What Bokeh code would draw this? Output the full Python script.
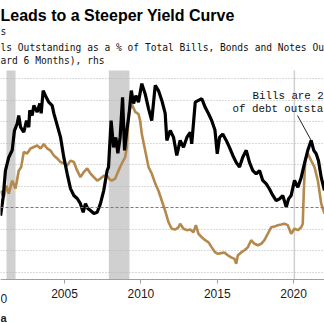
from bokeh.plotting import figure
from bokeh.models import Range1d, Label, BoxAnnotation, Span, FixedTicker, Grid, ColumnDataSource
from bokeh.embed import file_html
from bokeh.resources import INLINE

# ---------------- data ----------------
# 2s10s Treasury curve, bp (lhs, black)
CURVE_YEAR = [2000.81, 2000.98, 2001.13, 2001.35, 2001.57, 2001.72, 2001.90, 2002.00, 2002.12, 2002.33,
              2002.51, 2002.66, 2002.72, 2002.88, 2002.99, 2003.21, 2003.38, 2003.47, 2003.60, 2003.75,
              2003.97, 2004.19, 2004.30, 2004.52, 2004.74, 2004.95, 2005.17, 2005.39, 2005.61, 2005.83,
              2006.04, 2006.22, 2006.37, 2006.52, 2006.70, 2006.92, 2007.14, 2007.35, 2007.57, 2007.79,
              2007.88, 2008.05, 2008.21, 2008.36, 2008.49, 2008.64, 2008.80, 2008.93, 2009.08, 2009.23,
              2009.37, 2009.52, 2009.67, 2009.84, 2010.06, 2010.28, 2010.50, 2010.71, 2010.94, 2011.15,
              2011.37, 2011.59, 2011.70, 2011.92, 2012.14, 2012.35, 2012.57, 2012.79, 2013.01, 2013.23,
              2013.33, 2013.56, 2013.77, 2013.99, 2014.21, 2014.43, 2014.64, 2014.85, 2015.00, 2015.15,
              2015.36, 2015.59, 2015.80, 2016.02, 2016.24, 2016.46, 2016.67, 2016.90, 2017.11, 2017.33,
              2017.55, 2017.77, 2017.98, 2018.21, 2018.42, 2018.64, 2018.86, 2019.08, 2019.29, 2019.52,
              2019.67, 2019.84, 2020.06, 2020.28, 2020.50, 2020.71, 2020.93, 2021.15, 2021.32, 2021.48,
              2021.63, 2021.81, 2022.02]
CURVE_BP = [-19, 24, 86, 117, 133, 179, 195, 214, 187, 175,
            202, 187, 226, 214, 237, 222, 242, 219, 272, 260,
            245, 237, 219, 191, 163, 117, 79, 44, 28, 21,
            9, -11, 9, -2, -7, -14, -11, 9, 40, 86,
            94, 202, 140, 163, 126, 163, 256, 133, 179, 219,
            272, 242, 260, 245, 288, 264, 230, 202, 284, 272,
            249, 219, 156, 179, 163, 121, 156, 140, 163, 175,
            148, 245, 249, 253, 233, 218, 202, 180, 125, 163,
            171, 156, 140, 121, 105, 94, 117, 133, 105, 86,
            78, 86, 63, 55, 43, 28, 16, 20, 28, 1,
            20, 28, 63, 47, 70, 102, 133, 156, 133, 125,
            109, 70, 40]

# Bills outstanding as % of total bills, bonds and notes (rhs, tan, lagged 6 months)
BILLS_YEAR = [2000.81, 2001.02, 2001.20, 2001.35, 2001.57, 2001.79, 2002.00, 2002.16, 2002.33, 2002.55,
              2002.77, 2002.99, 2003.21, 2003.43, 2003.64, 2003.86, 2004.08, 2004.30, 2004.52, 2004.74,
              2004.95, 2005.17, 2005.39, 2005.61, 2005.83, 2006.04, 2006.26, 2006.48, 2006.70, 2006.92,
              2007.14, 2007.35, 2007.57, 2007.79, 2007.95, 2008.09, 2008.32, 2008.53, 2008.75, 2008.97,
              2009.08, 2009.19, 2009.40, 2009.63, 2009.84, 2009.95, 2010.06, 2010.28, 2010.50, 2010.71,
              2010.94, 2011.15, 2011.37, 2011.59, 2011.81, 2012.02, 2012.25, 2012.46, 2012.57, 2012.79,
              2013.01, 2013.23, 2013.44, 2013.60, 2013.77, 2013.99, 2014.21, 2014.43, 2014.64, 2014.87,
              2015.04, 2015.26, 2015.47, 2015.69, 2015.91, 2016.13, 2016.24, 2016.35, 2016.57, 2016.78,
              2017.00, 2017.22, 2017.44, 2017.66, 2017.88, 2018.09, 2018.31, 2018.53, 2018.75, 2018.97,
              2019.19, 2019.40, 2019.62, 2019.84, 2020.06, 2020.28, 2020.50, 2020.60, 2020.67, 2020.76,
              2020.93, 2021.15, 2021.37, 2021.59, 2021.81, 2022.02]
BILLS_PCT = [21.4, 20.5, 22.1, 21.0, 22.8, 21.7, 24.2, 24.7, 26.8, 26.6,
             27.3, 27.5, 27.7, 27.3, 27.9, 27.3, 27.0, 26.3, 25.9, 25.4,
             25.2, 24.9, 25.6, 25.4, 24.2, 23.3, 24.0, 24.5, 23.8, 23.3,
             22.8, 23.1, 23.5, 23.5, 23.0, 22.8, 23.1, 24.2, 25.2, 26.1,
             27.5, 32.1, 33.5, 32.4, 32.1, 31.2, 29.3, 27.0, 24.7, 23.8,
             22.4, 21.4, 20.0, 18.6, 17.0, 16.1, 16.0, 16.3, 16.8, 16.1,
             15.9, 16.0, 15.6, 16.6, 15.4, 14.9, 14.5, 14.2, 13.5, 12.8,
             12.6, 12.7, 12.8, 12.4, 12.1, 11.9, 11.2, 12.4, 12.8, 13.1,
             13.5, 14.5, 14.0, 13.8, 14.0, 14.5, 15.4, 16.3, 16.4, 16.6,
             16.7, 16.8, 16.6, 15.4, 16.1, 15.9, 16.3, 16.8, 21.4, 25.6,
             26.6, 25.6, 24.7, 22.8, 19.6, 18.2]

# US recessions (shaded)
REC_START = [2001.20, 2007.90, 2020.00]
REC_END = [2001.79, 2009.25, 2020.10]

X_TICKS = [2005, 2010, 2015, 2020]
LHS_GRID = [-150, -100, -50, 50, 100, 150, 200, 250, 300]
ZERO = 0

TITLE = "Leads to a Steeper Yield Curve"
SUB1 = "s"
SUB2 = "ls Outstanding as a % of Total Bills, Bonds and Notes Ou"
SUB3 = "ard 6 Months), rhs"
NOTE1 = "Bills are 2"
NOTE2 = "of debt outsta"
CUT_TICK = "0"
CUT_SOURCE = "a"

# ---------------- layout ----------------
W, H = 324, 323
DATA_TOP, DATA_BOT = 70, 279          # pixel rows of the plotting area
X0, X1 = 2000.806, 2022.024
LHS_TOP, LHS_BOT = 318.6, -167.4      # lhs values at DATA_TOP / DATA_BOT
RHS_TOP, RHS_BOT = 38.17, 9.02        # rhs values at DATA_TOP / DATA_BOT


def extend(top, bot):
    per_px = (top - bot) / (DATA_BOT - DATA_TOP)
    return bot - (H - DATA_BOT) * per_px, top + DATA_TOP * per_px


YL0, YL1 = extend(LHS_TOP, LHS_BOT)
YR0, YR1 = extend(RHS_TOP, RHS_BOT)


def px2x(px):
    return X0 + px * (X1 - X0) / W


def px2y(py):
    return YL1 - py * (YL1 - YL0) / H


p = figure(width=W, height=H, x_range=Range1d(X0, X1), y_range=Range1d(YL0, YL1),
           output_backend="svg", toolbar_location=None, title=None,
           y_axis_location=None, min_border=0, min_border_left=0, min_border_right=0,
           min_border_top=0, min_border_bottom=0)
p.extra_y_ranges = {"rhs": Range1d(YR0, YR1)}
p.outline_line_color = None
p.background_fill_color = "white"
p.border_fill_color = "white"
p.xgrid.visible = False
p.ygrid.visible = False

for a, b in zip(REC_START, REC_END):
    p.add_layout(BoxAnnotation(left=a, right=b, top=LHS_TOP, bottom=LHS_BOT,
                               fill_color="#d0d0d0", fill_alpha=1.0,
                               line_color=None, level="underlay"))

p.add_layout(Grid(dimension=1, ticker=FixedTicker(ticks=LHS_GRID), grid_line_color="#b4b4b4",
                  grid_line_dash="1 2", grid_line_width=1, level="underlay"))
p.add_layout(Span(location=ZERO, dimension="width", line_color="#7a7a7a",
                  line_dash="3 2", line_width=1))

bills_src = ColumnDataSource(dict(x=BILLS_YEAR, y=BILLS_PCT))
curve_src = ColumnDataSource(dict(x=CURVE_YEAR, y=CURVE_BP))
p.line("x", "y", source=bills_src, y_range_name="rhs", line_color="#b5894c", line_width=2.6)
p.line("x", "y", source=curve_src, line_color="black", line_width=3.2)

ax = p.xaxis[0]
ax.fixed_location = LHS_BOT
ax.ticker = FixedTicker(ticks=X_TICKS)
ax.axis_line_color = "#a0a0a0"
ax.major_tick_line_color = "#a0a0a0"
ax.major_tick_out = 4
ax.major_tick_in = 0
ax.minor_tick_line_color = None
ax.major_label_text_font = "Liberation Sans"
ax.major_label_text_font_size = "12px"
ax.major_label_text_color = "#1a1a1a"
ax.major_label_standoff = 5

# fragments cut at the left edge of the crop
p.add_layout(Label(x=px2x(0), y=px2y(297.5), text=CUT_TICK, text_align="left", text_baseline="alphabetic",
                   text_font="Liberation Sans", text_font_size="12px", text_color="#1a1a1a"))
p.add_layout(Label(x=px2x(0), y=px2y(317), text=CUT_SOURCE, text_align="left", text_baseline="alphabetic",
                   text_font="Liberation Sans", text_font_style="bold", text_font_size="11px",
                   text_color="#1a1a1a"))

# titles
p.add_layout(Label(x=px2x(0), y=px2y(15), text=TITLE, text_align="left", text_baseline="alphabetic",
                   text_font="Liberation Sans", text_font_style="bold", text_font_size="16px",
                   text_color="black"))
for txt, by in [(SUB1, 31), (SUB2, 46.5), (SUB3, 60)]:
    p.add_layout(Label(x=px2x(0), y=px2y(by), text=txt, text_align="left", text_baseline="alphabetic",
                       text_font="DejaVu Sans Mono", text_font_size="9.6px", text_color="#111111"))

# annotation
p.add_layout(Label(x=px2x(252), y=px2y(95), text=NOTE1, text_align="left", text_baseline="alphabetic",
                   text_font="Liberation Mono", text_font_size="10.8px", text_color="#111111"))
p.add_layout(Label(x=px2x(232), y=px2y(108.5), text=NOTE2, text_align="left", text_baseline="alphabetic",
                   text_font="Liberation Mono", text_font_size="10.8px", text_color="#111111"))
late = [(x, y) for x, y in zip(CURVE_YEAR, CURVE_BP) if x > 2020.5]
peak_x, peak_y = max(late, key=lambda t: t[1])
p.segment(x0=[px2x(297)], y0=[px2y(115)], x1=[peak_x], y1=[peak_y], line_color="#222222", line_width=1)

open("out.html", "w").write(file_html(p, INLINE))
